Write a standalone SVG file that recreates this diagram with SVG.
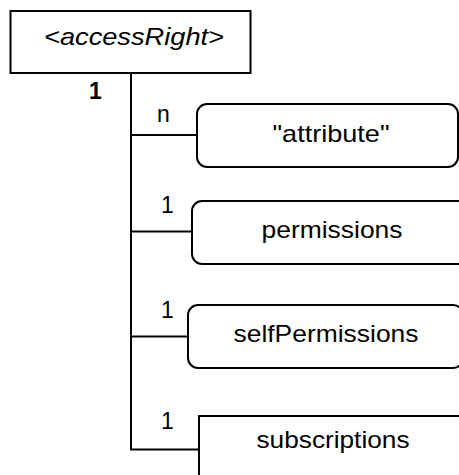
<svg xmlns="http://www.w3.org/2000/svg" width="459" height="475" viewBox="0 0 459 475">
  <style>
    .box { fill: #ffffff; stroke: #000000; stroke-width: 2; }
    .wire { fill: none; stroke: #000000; stroke-width: 2; }
    .label { font-family: "Liberation Sans", Arial, sans-serif; font-size: 24px; fill: #000000; text-anchor: middle; }
    .mult { font-family: "Liberation Sans", Arial, sans-serif; font-size: 23px; fill: #000000; }
    .root { font-style: italic; }
    .mult.bold { font-weight: bold; font-size: 23px; }
  </style>

  <!-- tree connectors -->
  <g id="connectors">
    <path class="wire" d="M131,73 V449.5 H199"/>
    <path class="wire" d="M131,135 H197"/>
    <path class="wire" d="M131,231.5 H192"/>
    <path class="wire" d="M131,336.5 H188"/>
  </g>

  <!-- multiplicities -->
  <g id="multiplicities">
    <text class="mult bold" x="89" y="99">1</text>
    <text class="mult" x="157" y="122">n</text>
    <text class="mult" x="161" y="213">1</text>
    <text class="mult" x="161" y="318">1</text>
    <text class="mult" x="161" y="429">1</text>
  </g>

  <g id="accessRight">
    <rect class="box" x="10.5" y="11" width="240" height="62"/>
    <text class="label root" x="134" y="45" textLength="180" lengthAdjust="spacingAndGlyphs">&lt;accessRight&gt;</text>
  </g>

  <g id="attribute">
    <rect class="box" x="197" y="104" width="261" height="63" rx="10" ry="10"/>
    <text class="label" x="331" y="142" textLength="117" lengthAdjust="spacingAndGlyphs">"attribute"</text>
  </g>

  <g id="permissions">
    <rect class="box" x="192" y="201" width="280" height="63" rx="10" ry="10"/>
    <text class="label" x="332" y="238" textLength="141" lengthAdjust="spacingAndGlyphs">permissions</text>
  </g>

  <g id="selfPermissions">
    <rect class="box" x="188" y="305" width="275" height="63" rx="10" ry="10"/>
    <text class="label" x="326" y="342" textLength="185" lengthAdjust="spacingAndGlyphs">selfPermissions</text>
  </g>

  <g id="subscriptions">
    <rect class="box" x="199" y="416" width="280" height="80"/>
    <text class="label" x="333" y="448" textLength="153" lengthAdjust="spacingAndGlyphs">subscriptions</text>
  </g>
</svg>
